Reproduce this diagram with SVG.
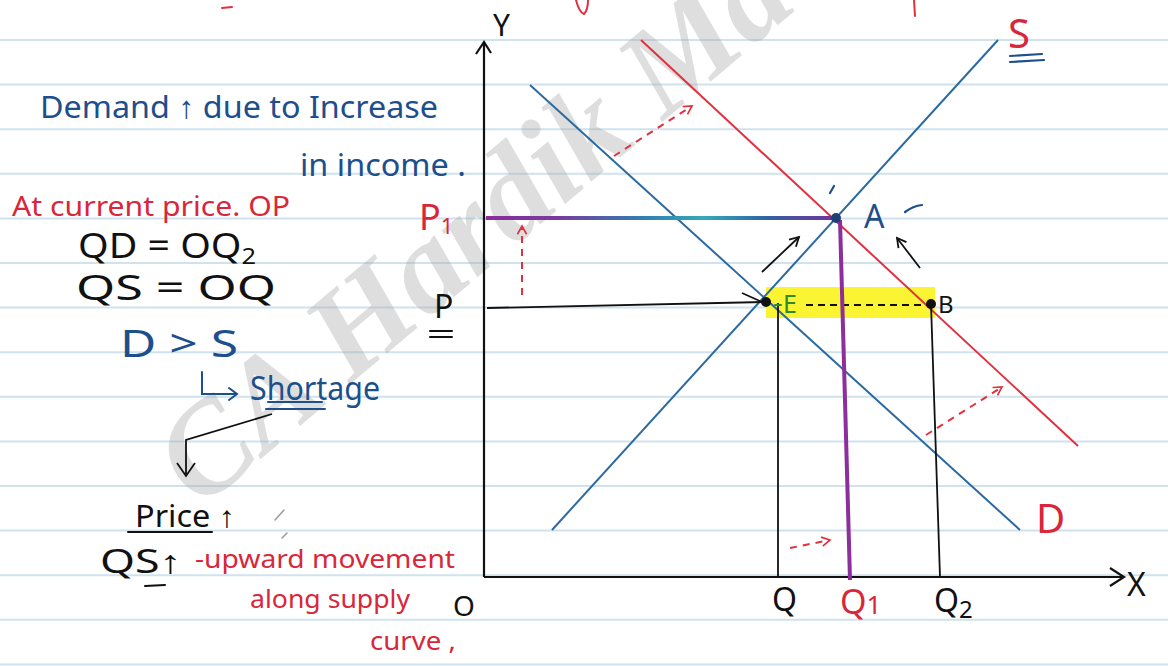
<svg xmlns="http://www.w3.org/2000/svg" width="1168" height="666" viewBox="0 0 1168 666">
<defs>
<style>
.rule{stroke:#cfe2ee;stroke-width:2;}
.hw{font-family:"Noto Sans","Liberation Sans",sans-serif;}
.blue{fill:#1d4f8c;}
.red{fill:#d8273a;}
.blk{fill:#111;}
.ln{fill:none;stroke-linecap:round;}
.ax{stroke:#111;stroke-width:2.2;fill:none;}
.bcurve{stroke:#2b6aa0;stroke-width:2;}
.rcurve{stroke:#e0313f;stroke-width:2;}
.thin{stroke:#111;stroke-width:1.8;fill:none;}
.rdash{stroke:#e0313f;stroke-width:2;stroke-dasharray:7 6;fill:none;}
.wm{font-family:"Liberation Serif",serif;font-style:italic;font-weight:bold;fill:#a8a8a8;fill-opacity:0.38;}
</style>
<marker id="ahk" viewBox="0 0 12 12" refX="10" refY="6" markerWidth="12" markerHeight="12" markerUnits="userSpaceOnUse" orient="auto">
<path d="M1,1 L10,6 L1,11" fill="none" stroke="#111" stroke-width="1.8"/>
</marker>
<marker id="ahr" viewBox="0 0 12 12" refX="10" refY="6" markerWidth="11" markerHeight="11" markerUnits="userSpaceOnUse" orient="auto">
<path d="M1,1 L10,6 L1,11" fill="none" stroke="#e0313f" stroke-width="1.8"/>
</marker>
<linearGradient id="pgrad" x1="485" y1="0" x2="838" y2="0" gradientUnits="userSpaceOnUse">
<stop offset="0" stop-color="#8a2e9a"/>
<stop offset="0.2" stop-color="#7a3aa0"/>
<stop offset="0.45" stop-color="#2f7fb0"/>
<stop offset="0.62" stop-color="#35a9b8"/>
<stop offset="0.8" stop-color="#2f62a6"/>
<stop offset="1" stop-color="#7a2f9a"/>
</linearGradient>
</defs>

<rect width="1168" height="666" fill="#ffffff"/>
<g id="paper">
<line class="rule" x1="0" y1="40" x2="1168" y2="40"/>
<line class="rule" x1="0" y1="84.6" x2="1168" y2="84.6"/>
<line class="rule" x1="0" y1="129.2" x2="1168" y2="129.2"/>
<line class="rule" x1="0" y1="173.8" x2="1168" y2="173.8"/>
<line class="rule" x1="0" y1="218.4" x2="1168" y2="218.4"/>
<line class="rule" x1="0" y1="263" x2="1168" y2="263"/>
<line class="rule" x1="0" y1="307.6" x2="1168" y2="307.6"/>
<line class="rule" x1="0" y1="352.2" x2="1168" y2="352.2"/>
<line class="rule" x1="0" y1="396.8" x2="1168" y2="396.8"/>
<line class="rule" x1="0" y1="441.4" x2="1168" y2="441.4"/>
<line class="rule" x1="0" y1="486" x2="1168" y2="486"/>
<line class="rule" x1="0" y1="530.6" x2="1168" y2="530.6"/>
<line class="rule" x1="0" y1="575.2" x2="1168" y2="575.2"/>
<line class="rule" x1="0" y1="619.8" x2="1168" y2="619.8"/>
<line class="rule" x1="0" y1="664.4" x2="1168" y2="664.4"/>
</g>

<g id="watermark">
<text class="wm" x="0" y="0" font-size="128" transform="translate(200,510) rotate(-40)">CA Hardik Ma</text>
</g>

<g id="top-marks">
<path class="ln" d="M222,8 L232,7" stroke="#e0313f" stroke-width="2"/>
<path class="ln" d="M576,0 Q579,12 584,14 Q588,10 588,0" stroke="#e0313f" stroke-width="2"/>
<path class="ln" d="M914,0 L915,16" stroke="#e0313f" stroke-width="2"/>
</g>

<g id="highlight">
<rect x="766" y="287" width="169" height="31" fill="#fbf432"/>
</g>

<g id="axes">
<path class="ax" d="M484,577 L484,42"/>
<path class="ax" d="M476,54 L484,42 L491,53"/>
<path class="ax" d="M484,577 L1124,577"/>
<path class="ax" d="M1110,568 L1124,577 L1110,586"/>
<text class="hw blk" x="493" y="36" font-size="30">Y</text>
<text class="hw blk" x="1127" y="596" font-size="32">X</text>
<text class="hw blk" x="453" y="616" font-size="28">O</text>
</g>

<g id="curves">
<line class="bcurve" x1="530" y1="85" x2="1020" y2="530"/>
<line class="bcurve" x1="552" y1="530" x2="998" y2="40"/>
<line class="rcurve" x1="641" y1="40" x2="1078" y2="446"/>
</g>

<g id="guides">
<path class="thin" d="M487,308 L764,302"/>
<path class="thin" d="M778,303 L778,577"/>
<path class="thin" d="M931,304 L940,577"/>
<path d="M806,305 L928,305" stroke="#111" stroke-width="2" stroke-dasharray="7 5" fill="none"/>
<path d="M486,218 L838,218" stroke="url(#pgrad)" stroke-width="4" fill="none"/>
<path d="M840,220 L850,580" stroke="#8b2f9c" stroke-width="4" fill="none"/>
</g>

<g id="points">
<circle cx="766" cy="302" r="5" fill="#111"/>
<circle cx="931" cy="304" r="5" fill="#111"/>
<circle cx="836" cy="218" r="5" fill="#1d3f74"/>
</g>

<g id="point-labels">
<path class="ln" d="M775,305 L781,305" stroke="#2f8a2f" stroke-width="2"/>
<text class="hw" x="783" y="313" font-size="25" fill="#2f8a2f">E</text>
<text class="hw blk" x="938" y="313" font-size="24">B</text>
<text class="hw blue" x="864" y="228" font-size="32">A</text>
<path class="ln" d="M905,212 Q913,206 922,205" stroke="#1d4f8c" stroke-width="2.2"/>
<path class="ln" d="M830,193 L834,186" stroke="#1d4f8c" stroke-width="2.2"/>
<text class="hw red" x="419" y="230" font-size="36">P<tspan font-size="22" dy="4">1</tspan></text>
<text class="hw blk" x="434" y="318" font-size="32">P</text>
<path class="ln" d="M430,331 L452,331 M430,337 L452,337" stroke="#111" stroke-width="2"/>
<text class="hw blk" x="772" y="611" font-size="32">Q</text>
<text class="hw red" x="840" y="614" font-size="34">Q<tspan font-size="26">1</tspan></text>
<text class="hw blk" x="934" y="612" font-size="32">Q<tspan font-size="24" dy="6">2</tspan></text>
<text class="hw red" x="1008" y="48" font-size="40">S</text>
<path class="ln" d="M1010,56 L1042,54 M1010,62 L1044,60" stroke="#1d4f8c" stroke-width="2.2"/>
<text class="hw red" x="1036" y="533" font-size="40">D</text>
</g>

<g id="connectors">
<path class="thin" d="M742,293 L762,302"/>
<path class="thin" d="M762,272 L799,237" marker-end="url(#ahk)"/>
<path class="thin" d="M920,268 L897,238" marker-end="url(#ahk)"/>
<path class="rdash" d="M614,156 L692,106" marker-end="url(#ahr)"/>
<path class="rdash" d="M522,295 L522,226" marker-end="url(#ahr)"/>
<path class="rdash" d="M926,435 L1002,387" marker-end="url(#ahr)"/>
<path class="rdash" d="M790,548 L830,540" marker-end="url(#ahr)"/>
<path class="thin" d="M272,414 L186,440 L186,475"/>
<path class="thin" d="M177,463 L186,476 L195,463"/>
</g>

<g id="notes">
<text class="hw blue" x="40" y="118" font-size="31" textLength="398" lengthAdjust="spacingAndGlyphs">Demand ↑ due to Increase</text>
<text class="hw blue" x="300" y="176" font-size="31" textLength="166" lengthAdjust="spacingAndGlyphs">in income .</text>
<text class="hw red" x="12" y="216" font-size="27" textLength="278" lengthAdjust="spacingAndGlyphs">At current price. OP</text>
<text class="hw blk" x="78" y="258" font-size="34" textLength="178" lengthAdjust="spacingAndGlyphs">QD = OQ<tspan font-size="22" dy="6">2</tspan></text>
<text class="hw blk" x="76" y="300" font-size="34" textLength="200" lengthAdjust="spacingAndGlyphs">QS = OQ</text>
<text class="hw blue" x="120" y="357" font-size="38" textLength="118" lengthAdjust="spacingAndGlyphs">D &gt; S</text>
<path class="ln" d="M202,372 L202,394 L236,394 M229,388 L237,394 L229,400" stroke="#1d4f8c" stroke-width="2"/>
<text class="hw blue" x="250" y="400" font-size="32" textLength="130" lengthAdjust="spacingAndGlyphs">Shortage</text>
<path class="ln" d="M268,402 L322,402 M266,409 L325,409" stroke="#1d4f8c" stroke-width="2"/>
<text class="hw blk" x="135" y="527" font-size="30" textLength="100" lengthAdjust="spacingAndGlyphs">Price ↑</text>
<path class="ln" d="M128,532 L212,532" stroke="#111" stroke-width="2"/>
<text class="hw blk" x="100" y="573" font-size="32" textLength="82" lengthAdjust="spacingAndGlyphs">QS↑</text>
<path class="ln" d="M145,586 L165,585" stroke="#111" stroke-width="2"/>
<text class="hw red" x="195" y="568" font-size="26" textLength="260" lengthAdjust="spacingAndGlyphs">-upward movement</text>
<text class="hw red" x="250" y="608" font-size="26" textLength="160" lengthAdjust="spacingAndGlyphs">along supply</text>
<text class="hw red" x="370" y="650" font-size="26" textLength="86" lengthAdjust="spacingAndGlyphs">curve ,</text>
<path class="ln" d="M275,520 L284,510 M282,538 L287,533" stroke="#999" stroke-width="1.5"/>
</g>
</svg>
